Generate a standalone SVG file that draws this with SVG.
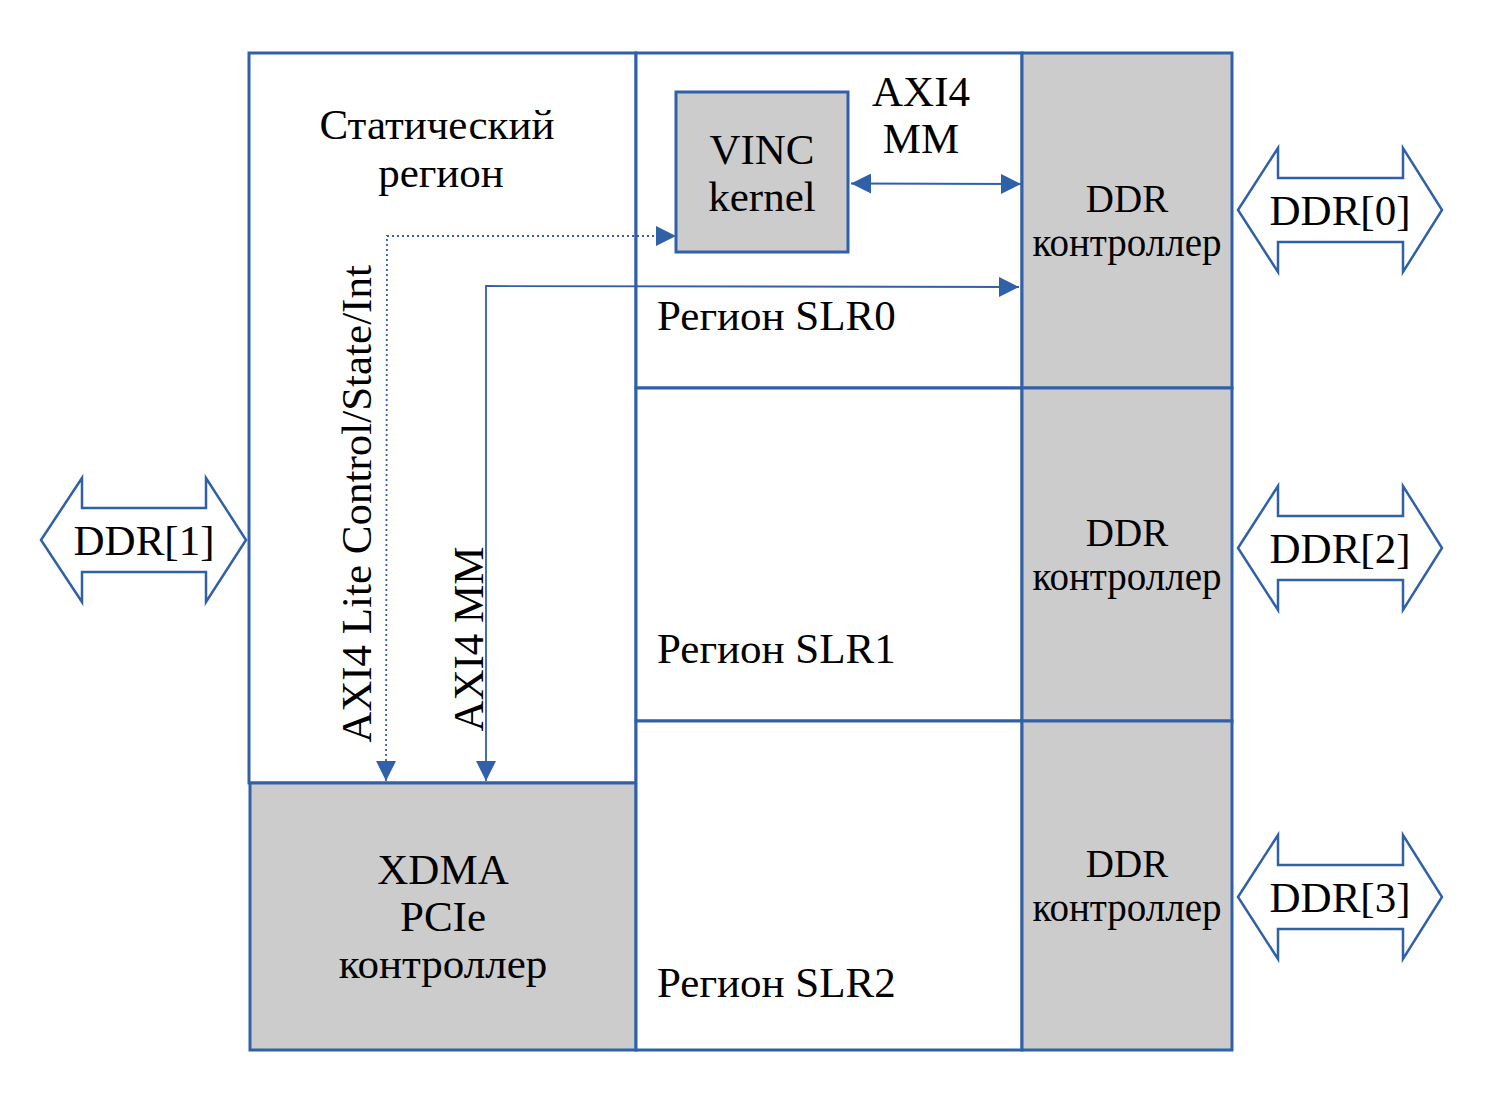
<svg xmlns="http://www.w3.org/2000/svg" width="1486" height="1096" viewBox="0 0 1486 1096">
<style>
.box{fill:#fff;stroke:#3061a8;stroke-width:3}
.grey{fill:#cccccc;stroke:#3061a8;stroke-width:3}
.big{fill:none;stroke:#3061a8;stroke-width:2.5}
.ln{fill:none;stroke:#3061a8;stroke-width:1.8}
.dot{fill:none;stroke:#3061a8;stroke-width:1.8;stroke-dasharray:2 3}
text{font-family:"Liberation Serif","Times New Roman",serif;fill:#000;text-anchor:middle}
.t40{font-size:43px}
.t34{font-size:39px}
.start{text-anchor:start}
</style>
<defs>
<marker id="ah" viewBox="0 0 20 20" refX="20" refY="10" markerWidth="20" markerHeight="20" markerUnits="userSpaceOnUse" orient="auto-start-reverse">
<path d="M0,0 L20,10 L0,20 z" fill="#3061a8"/>
</marker>
</defs>
<rect width="1486" height="1096" fill="#fff"/>
<g id="static">
<rect class="box" x="249" y="53" width="387" height="730"/>
<text class="t40" x="437" y="139">Статический</text>
<text class="t40" x="441" y="187">регион</text>
</g>
<g id="xdma">
<rect class="grey" x="250" y="783" width="386" height="267"/>
<text class="t40" x="443" y="884">XDMA</text>
<text class="t40" x="443" y="931">PCIe</text>
<text class="t40" x="443" y="978">контроллер</text>
</g>
<g id="slr0">
<rect class="box" x="636" y="53" width="386" height="335"/>
<text class="t40 start" x="657" y="330">Регион SLR0</text>
</g>
<g id="slr1">
<rect class="box" x="636" y="388" width="386" height="333"/>
<text class="t40 start" x="657" y="663">Регион SLR1</text>
</g>
<g id="slr2">
<rect class="box" x="636" y="721" width="386" height="329"/>
<text class="t40 start" x="657" y="997">Регион SLR2</text>
</g>
<g id="ddrc0">
<rect class="grey" x="1022" y="53" width="210" height="335"/>
<text class="t34" x="1127" y="212">DDR</text>
<text class="t34" x="1127" y="256">контроллер</text>
</g>
<g id="ddrc1">
<rect class="grey" x="1022" y="388" width="210" height="333"/>
<text class="t34" x="1127" y="546">DDR</text>
<text class="t34" x="1127" y="590">контроллер</text>
</g>
<g id="ddrc2">
<rect class="grey" x="1022" y="721" width="210" height="329"/>
<text class="t34" x="1127" y="877">DDR</text>
<text class="t34" x="1127" y="921">контроллер</text>
</g>
<g id="vinc">
<rect class="grey" x="676" y="92" width="172" height="160"/>
<text class="t40" x="762" y="164">VINC</text>
<text class="t40" x="762" y="211">kernel</text>
</g>
<g id="ddr0">
<path class="big" d="M1238,210 L1278,148 L1278,178 L1403,178 L1403,148 L1442,210 L1403,272 L1403,242 L1278,242 L1278,272 Z" fill="#fff"/>
<text class="t40" x="1340" y="225">DDR[0]</text>
</g>
<g id="ddr2">
<path class="big" d="M1238,548 L1278,486 L1278,516 L1403,516 L1403,486 L1442,548 L1403,610 L1403,580 L1278,580 L1278,610 Z" fill="#fff"/>
<text class="t40" x="1340" y="563">DDR[2]</text>
</g>
<g id="ddr3">
<path class="big" d="M1238,897 L1278,835 L1278,865 L1403,865 L1403,835 L1442,897 L1403,959 L1403,929 L1278,929 L1278,959 Z" fill="#fff"/>
<text class="t40" x="1340" y="912">DDR[3]</text>
</g>
<g id="ddr1">
<path class="big" d="M41,540 L82,478 L82,508 L206,508 L206,478 L246,540 L206,602 L206,572 L82,572 L82,602 Z" fill="#fff"/>
<text class="t40" x="144" y="555">DDR[1]</text>
</g>
<g id="connectors">
<path class="ln" d="M851,183.5 L1021,184" marker-start="url(#ah)" marker-end="url(#ah)"/>
<path class="dot" d="M386,781 L387,236 L676,236" marker-end="url(#ah)" marker-start="url(#ah)"/>
<path class="ln" d="M486,781 L486,286 L1019,287" marker-start="url(#ah)" marker-end="url(#ah)"/>
<text class="t40" x="921" y="106">AXI4</text>
<text class="t40" x="921" y="153">MM</text>
<text class="t40" transform="translate(371,504) rotate(-90)">AXI4 Lite Control/State/Int</text>
<text class="t40" transform="translate(483,639) rotate(-90)">AXI4 MM</text>
</g>
</svg>
